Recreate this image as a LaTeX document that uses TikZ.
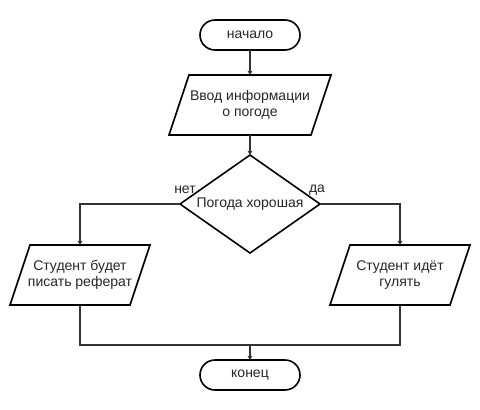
\documentclass[tikz,border=0pt]{standalone}
\usepackage{fontspec}
\setmainfont{Liberation Sans}
\usetikzlibrary{arrows.meta}
\begin{document}
\begin{tikzpicture}[x=1pt,y=-1pt,
  every node/.style={font=\fontsize{14}{16.5}\selectfont, text=black!85, outer sep=0pt, inner sep=0pt},
  shp/.style={draw=black, line width=1.6pt, line join=miter},
  term/.style={shp, rounded corners=15pt, minimum width=100pt, minimum height=30pt},
  box/.style={minimum height=60pt, align=center},
  conn/.style={draw=black!80, line width=1.4pt},
  arr/.style={conn, -{Triangle[length=4pt,width=4.5pt]}},
  lbl/.style={font=\fontsize{14}{16}\selectfont}
]
\useasboundingbox (0,0) rectangle (480,410);
\fill[white] (0,0) rectangle (480,410);

% start / end
\node[term] (start) at (250,35) {начало};
\node[term] (stop) at (250,375) {конец};

% input parallelogram
\node[box, minimum width=162pt] (inp) at (250,105) {Ввод информации\\о погоде};
\draw[shp] ([xshift=20pt]inp.north west) -- (inp.north east) -- ([xshift=-20pt]inp.south east) -- (inp.south west) -- cycle;

% decision
\node[minimum width=140pt, minimum height=98pt] (dec) at (250,204) {Погода хорошая};
\draw[shp] (dec.north) -- (dec.east) -- (dec.south) -- (dec.west) -- cycle;

% left branch
\node[box, minimum width=140pt] (left) at (80,275) {Студент будет\\писать реферат};
\draw[shp] ([xshift=20pt]left.north west) -- (left.north east) -- ([xshift=-20pt]left.south east) -- (left.south west) -- cycle;

% right branch
\node[box, minimum width=140pt] (right) at (400,275) {Студент идёт\\гулять};
\draw[shp] ([xshift=20pt]right.north west) -- (right.north east) -- ([xshift=-20pt]right.south east) -- (right.south west) -- cycle;

% labels
\node[lbl] (no) at (185,190) {нет};
\node[lbl] (yes) at (317,190) {да};

% connectors
\coordinate (merge) at (250,345);
\draw[arr] (start.south) -- (inp.north);
\draw[arr] (inp.south) -- (dec.north);
\draw[arr] (dec.west) -| (left.north);
\draw[arr] (dec.east) -| (right.north);
\draw[conn] (left.south) |- (merge);
\draw[conn] (right.south) |- (merge);
\draw[arr] (merge) -- (stop.north);
\end{tikzpicture}
\end{document}
